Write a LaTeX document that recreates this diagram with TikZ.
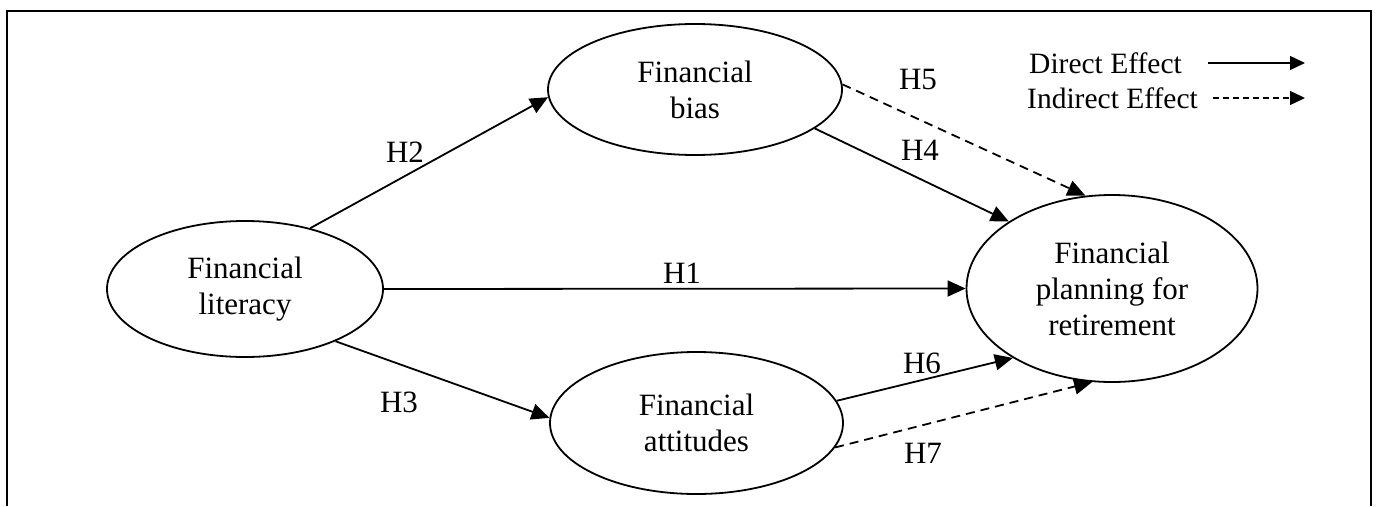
\documentclass[tikz,border=0pt]{standalone}
\usepackage{fontspec}
\setmainfont{Liberation Serif}
\usetikzlibrary{shapes.geometric,arrows.meta}
\begin{document}
\begin{tikzpicture}[x=1pt,y=-1pt,
  construct/.style={draw,line width=1.8pt,ellipse,inner sep=0pt,align=center,
    font=\fontsize{31}{36}\selectfont},
  direct/.style={line width=1.8pt,-{Triangle[length=18pt,width=16pt]}},
  indirect/.style={direct,dash pattern=on 9pt off 6pt},
  hlabel/.style={inner sep=0pt,font=\fontsize{31}{36}\selectfont},
  legtext/.style={inner sep=0pt,anchor=west,font=\fontsize{29.5}{34}\selectfont},
  legdirect/.style={line width=1.3pt,-{Triangle[length=15pt,width=14pt]}},
  legindirect/.style={legdirect,dash pattern=on 6pt off 4pt},
  frame/.style={line width=2pt}]
\useasboundingbox (0,0) rectangle (1376,506);
\draw[frame] (7,506) -- (7,11) -- (1371,11) -- (1371,506);

\node[construct,minimum width=276pt,minimum height=136pt] (lit) at (245,289) {Financial\\literacy};
\node[construct,minimum width=294pt,minimum height=131pt] (bias) at (695,89.5) {Financial\\bias};
\node[construct,minimum width=293pt,minimum height=142pt] (att) at (696.5,423) {Financial\\attitudes};
\node[construct,minimum width=291pt,minimum height=187pt] (plan) at (1112,288.5) {Financial\\planning for\\retirement};

\draw[direct] (lit.east) -- (plan.west);
\draw[direct] (lit.43.3) -- (bias.183.7);
\draw[direct] (lit.-30.6) -- (att.178);
\draw[direct] (bias.-18.7) -- (plan.147.8);
\draw[indirect] (bias.2.9) -- (plan.106.1);
\draw[direct] (att.9) -- (plan.215.8);
\draw[indirect] (att.-10) -- (plan.258);

\node[hlabel] (h1) at (682,273) {H1};
\node[hlabel] (h2) at (405,152) {H2};
\node[hlabel] (h3) at (399,402) {H3};
\node[hlabel] (h4) at (920,150) {H4};
\node[hlabel] (h5) at (918,80) {H5};
\node[hlabel] (h6) at (922,363) {H6};
\node[hlabel] (h7) at (923,453) {H7};

\node[legtext] (ld) at (1029,63) {Direct Effect};
\node[legtext] (li) at (1027,98) {Indirect Effect};
\coordinate (d1) at (1208,63);
\coordinate (d2) at (1305,63);
\coordinate (i1) at (1213,98);
\coordinate (i2) at (1305,98);
\draw[legdirect] (d1) -- (d2);
\draw[legindirect] (i1) -- (i2);
\end{tikzpicture}
\end{document}
